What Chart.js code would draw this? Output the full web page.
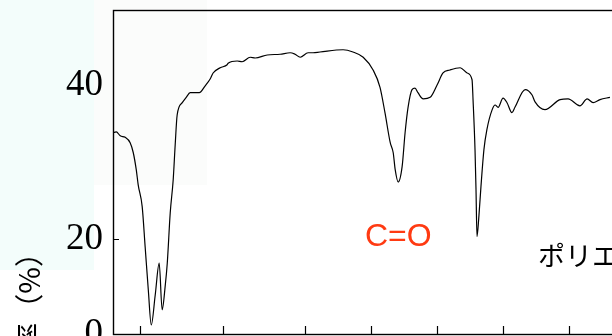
<!DOCTYPE html>
<html>
<head>
<meta charset="utf-8">
<script src="https://cdn.jsdelivr.net/npm/chart.js@4.4.0/dist/chart.umd.min.js"></script>
<style>
  html, body { margin: 0; padding: 0; background: #ffffff; overflow: hidden; width: 612px; height: 336px; }
  #wrap { position: absolute; left: 0; top: 0; width: 660px; height: 380px; }
  canvas { display: block; }
</style>
</head>
<body>
<div id="wrap"><canvas id="c" width="660" height="380"></canvas></div>
<script>
// ---- data (wavenumber in cm^-1, transmittance in %) ----
const WAVENUMBER = [
  3164, 3145, 3121, 3091, 3061, 3042, 3024, 3012, 2988, 2970,
  2951, 2933, 2909, 2885, 2867, 2848, 2836, 2818, 2800, 2788,
  2776, 2745, 2721, 2697, 2642, 2606, 2576, 2558, 2515, 2473,
  2467, 2412, 2382, 2333, 2303, 2230, 2152, 2091, 2061, 2030,
  1991, 1976, 1955, 1885, 1855, 1824, 1794, 1773, 1758, 1742,
  1733, 1727, 1718, 1706, 1697, 1688, 1676, 1667, 1658, 1642,
  1621, 1600, 1582, 1561, 1530, 1509, 1494, 1491, 1485, 1482,
  1479, 1473, 1467, 1458, 1449, 1433, 1424, 1415, 1400, 1388,
  1373, 1364, 1333, 1312, 1303, 1273, 1227, 1203, 1167, 1145,
  1127, 1106, 1076
];
const TRANSMITTANCE = [
  33.8, 33.9, 33.4, 33.2, 32.5, 31.2, 29.0, 27.0, 24.2, 18.3,
  9.3, 1.9, 8.2, 14.9, 5.1, 10.3, 14.9, 23.4, 27.7, 32.2,
  36.1, 37.7, 38.4, 39.0, 39.0, 39.9, 40.8, 41.6, 42.3, 42.7,
  42.9, 43.2, 43.1, 43.7, 43.6, 44.0, 44.1, 44.3, 44.1, 43.7,
  44.3, 44.3, 44.4, 44.7, 44.4, 43.7, 42.0, 39.7, 36.4, 32.5,
  31.2, 29.0, 27.4, 29.4, 33.8, 37.1, 39.4, 39.6, 39.0, 38.2,
  38.4, 40.0, 41.6, 42.0, 42.3, 41.6, 40.7, 38.1, 31.6, 26.4,
  20.3, 23.1, 26.8, 31.6, 34.2, 36.8, 37.4, 37.1, 38.3, 37.7,
  36.4, 37.1, 39.4, 38.7, 37.8, 36.8, 38.1, 38.2, 37.3, 38.2,
  37.7, 38.1, 38.4
];
const X_TICKS = [3000, 2500, 2000, 1800, 1600, 1400, 1200];
const Y_TICKS = [0, 20, 40];
const Y_TICK_MARKS = [20];
const Y_TITLE = '透過率（%）';
const LABEL_CO = 'C=O';
const LABEL_SAMPLE = 'ポリエ';

// ---- axis breaks: relative scale density per value range ----
const AXIS_SEGMENTS = {
  x: [{ from: 1000, to: 2000, w: 2 }, { from: 2000, to: 3165, w: 1 }],
  y: [{ from: 0, to: 20, w: 0.617 }, { from: 20, to: 40, w: 1 }, { from: 40, to: 50, w: 0.974 }]
};

class BrokenScale extends Chart.LinearScale {
  _segs() { return AXIS_SEGMENTS[this.id]; }
  _dec(v) {
    const segs = this._segs();
    let total = 0, acc = 0;
    segs.forEach(s => { total += (s.to - s.from) * s.w; });
    for (const s of segs) {
      if (v >= s.to) { acc += (s.to - s.from) * s.w; continue; }
      if (v > s.from) acc += (v - s.from) * s.w;
      break;
    }
    if (v < segs[0].from) acc = (v - segs[0].from) * segs[0].w;
    return acc / total;
  }
  _inv(d) {
    const segs = this._segs();
    let total = 0;
    segs.forEach(s => { total += (s.to - s.from) * s.w; });
    let target = d * total;
    for (const s of segs) {
      const len = (s.to - s.from) * s.w;
      if (target <= len) return s.from + target / s.w;
      target -= len;
    }
    const last = segs[segs.length - 1];
    return last.to + target / last.w;
  }
  getPixelForValue(value) {
    if (value === null || value === undefined || isNaN(value)) return NaN;
    return this.getPixelForDecimal(this._dec(value));
  }
  getValueForPixel(pixel) {
    return this._inv(this.getDecimalForPixel(pixel));
  }
}
BrokenScale.id = 'broken';
BrokenScale.defaults = Chart.LinearScale.defaults;
Chart.register(BrokenScale);

const decorPlugin = {
  id: 'decor',
  beforeDraw(chart) {
    const ctx = chart.ctx;
    ctx.save();
    ctx.fillStyle = '#f3fdfb';
    ctx.fillRect(0, 0, 94, 270);
    ctx.fillStyle = '#fbfcfb';
    ctx.fillRect(94, 0, 113, 185);
    ctx.restore();
  },
  afterDraw(chart) {
    const ctx = chart.ctx;
    const a = chart.chartArea;
    const xs = chart.scales.x, ys = chart.scales.y;
    ctx.save();
    ctx.strokeStyle = '#000';
    ctx.lineWidth = 1.4;
    ctx.strokeRect(a.left + 0.5, a.top + 0.5, a.right - a.left, a.bottom - a.top);
    ctx.lineWidth = 1.2;
    ctx.beginPath();
    xs.ticks.forEach((t, i) => {
      const px = Math.round(xs.getPixelForTick(i)) + 0.5;
      ctx.moveTo(px, a.bottom);
      ctx.lineTo(px, a.bottom - 8);
    });
    Y_TICK_MARKS.forEach(v => {
      const py = Math.round(ys.getPixelForValue(v)) + 0.5;
      ctx.moveTo(a.left, py);
      ctx.lineTo(a.left + 6, py);
    });
    ctx.stroke();

    // annotations
    ctx.fillStyle = 'rgb(255,58,18)';
    ctx.font = '32px "Liberation Sans", Arial, sans-serif';
    ctx.textAlign = 'left';
    ctx.textBaseline = 'alphabetic';
    ctx.fillText(LABEL_CO, 365, 246);

    ctx.fillStyle = '#000';
    ctx.font = '27px "Noto Sans CJK JP", sans-serif';
    ctx.fillText(LABEL_SAMPLE, 538, 266);

    // y axis title (rotated)
    ctx.translate(29, 238);
    ctx.rotate(-Math.PI / 2);
    ctx.font = '29px "Noto Sans CJK JP", sans-serif';
    ctx.textAlign = 'right';
    ctx.textBaseline = 'middle';
    ctx.fillText(Y_TITLE, 0, 0);
    ctx.restore();
  }
};

new Chart(document.getElementById('c'), {
  type: 'line',
  data: {
    labels: WAVENUMBER,
    datasets: [{
      data: WAVENUMBER.map((w, i) => ({ x: w, y: TRANSMITTANCE[i] })),
      borderColor: '#000',
      borderWidth: 1.2,
      pointRadius: 0,
      fill: false,
      cubicInterpolationMode: 'monotone'
    }]
  },
  options: {
    responsive: false,
    devicePixelRatio: 1,
    animation: false,
    parsing: true,
    layout: { padding: { left: 0, top: 10, right: 25, bottom: 0 } },
    plugins: { legend: { display: false }, tooltip: { enabled: false } },
    scales: {
      x: {
        type: 'broken',
        min: 1000,
        max: 3165,
        reverse: true,
        grid: { display: false, drawTicks: false },
        border: { display: false },
        ticks: { display: false },
        afterBuildTicks: s => { s.ticks = X_TICKS.map(v => ({ value: v })); },
        afterFit: s => { s.height = 46; s.paddingLeft = 0; s.paddingRight = 0; }
      },
      y: {
        type: 'broken',
        min: 0,
        max: 50,
        grid: { display: false, drawTicks: false },
        border: { display: false },
        ticks: {
          color: '#000',
          padding: 10,
          font: { family: '"Liberation Serif", "Times New Roman", serif', size: 37 }
        },
        afterBuildTicks: s => { s.ticks = Y_TICKS.map(v => ({ value: v })); },
        afterFit: s => { s.width = 113; s.paddingTop = 0; s.paddingBottom = 0; }
      }
    }
  },
  plugins: [decorPlugin]
});
</script>
</body>
</html>
